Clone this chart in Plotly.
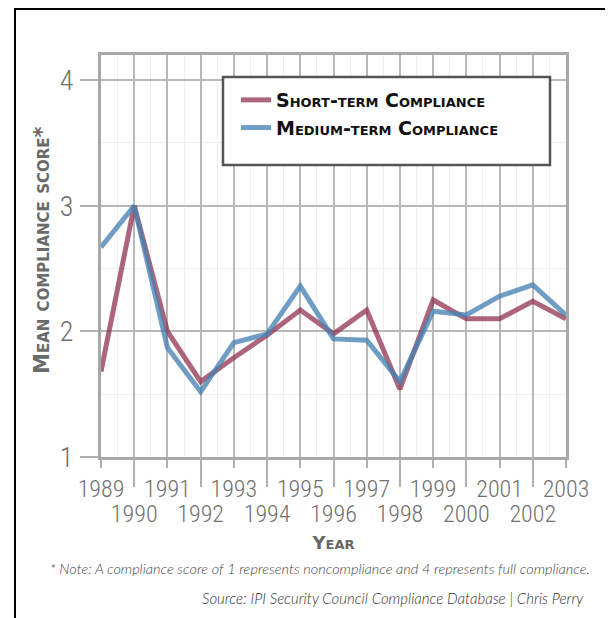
import plotly.graph_objects as go

years = list(range(1989, 2004))
short_term = [1.68, 3.0, 2.0, 1.6, 1.79, 1.97, 2.17, 1.98, 2.17, 1.54, 2.25, 2.10, 2.10, 2.24, 2.10]
medium_term = [2.67, 3.0, 1.87, 1.52, 1.91, 1.98, 2.36, 1.94, 1.93, 1.60, 2.16, 2.13, 2.28, 2.37, 2.13]

odd_years = [y for y in years if y % 2 == 1]
even_years = [y for y in years if y % 2 == 0]
y_ticks = [1, 2, 3, 4]

# the page adds an 8px body margin, so work in screen pixels and shift
OFF = 8
W, H = 613, 618
L, T = 101 - OFF, 55 - OFF
R, B = W - (566 - OFF), H - (457 - OFF)
PW, PH = W - L - R, H - T - B


# screen pixel -> paper coordinates
def px(x):
    return (x - OFF - L) / PW


def py(y):
    return (H - B - (y - OFF)) / PH


cond = "Roboto Condensed, DejaVu Sans Condensed, Liberation Sans Narrow, sans-serif"
xtick_font = dict(family=cond, size=24, color="#707070", weight=300)
ytick_font = dict(family=cond, size=28, color="#707070", weight=300)
caps_font = dict(family="DejaVu Sans, sans-serif", weight="bold", variant="small-caps")

fig = go.Figure()
fig.add_trace(go.Scatter(x=years, y=short_term, mode="lines", name="Short-term Compliance",
                         line=dict(color="rgba(140,42,70,0.72)", width=5)))
fig.add_trace(go.Scatter(x=years, y=medium_term, mode="lines", name="Medium-term Compliance",
                         line=dict(color="rgba(70,130,180,0.78)", width=5)))
# dummy trace so the second x axis (even years) is drawn
fig.add_trace(go.Scatter(x=[years[0]], y=[None], xaxis="x2", showlegend=False, hoverinfo="skip"))

fig.update_layout(
    width=W, height=H,
    margin=dict(l=L, r=R, t=T, b=B),
    paper_bgcolor="white", plot_bgcolor="white",
    showlegend=True,
    legend=dict(x=px(236), y=py(81), xanchor="left", yanchor="top",
                bgcolor="rgba(0,0,0,0)", borderwidth=0, itemwidth=30, tracegroupgap=0,
                font=dict(size=19, color="#111", **caps_font)),
    xaxis=dict(range=[1989, 2003], tickmode="array", tickvals=years,
               ticktext=[str(y) if y % 2 else "" for y in years], tickangle=0,
               ticks="outside", ticklen=8, tickwidth=1.5, tickcolor="#b0b0b0",
               showgrid=True, gridcolor="#b8b8b8", gridwidth=1.5,
               minor=dict(tickvals=[y + 0.5 for y in years[:-1]], showgrid=True,
                          gridcolor="#eeeeee", gridwidth=1),
               showline=True, linecolor="#a8a8a8", linewidth=3, mirror=True,
               zeroline=False, tickfont=xtick_font, ticklabelstandoff=0),
    xaxis2=dict(range=[1989, 2003], overlaying="x", anchor="y", side="bottom",
                tickmode="array", tickvals=even_years, ticktext=[str(y) for y in even_years], tickangle=0,
                ticks="outside", ticklen=29, tickwidth=1.5, tickcolor="#b0b0b0",
                showgrid=False, showline=False, zeroline=False,
                tickfont=xtick_font, ticklabelstandoff=6,
                title=dict(text="Year", standoff=9, font=dict(size=18, color="#666", **caps_font))),
    yaxis=dict(range=[1, 4.2], tickmode="array", tickvals=y_ticks,
               ticks="outside", ticklen=18, tickwidth=1.5, tickcolor="#b0b0b0",
               showgrid=True, gridcolor="#b8b8b8", gridwidth=1.5,
               minor=dict(tickvals=[1.5, 2.5, 3.5], showgrid=True, gridcolor="#eeeeee", gridwidth=1),
               showline=True, linecolor="#a8a8a8", linewidth=3, mirror=True,
               zeroline=False, tickfont=ytick_font, ticklabelstandoff=1),
)

# y axis title placed by hand, it sits close to the tick labels
fig.add_annotation(x=px(42), y=py(250), xref="paper", yref="paper", textangle=-90,
                   xanchor="center", yanchor="middle", showarrow=False,
                   text="Mean compliance score*", font=dict(size=21, color="#6a6a6a", **caps_font))

# legend box
fig.add_shape(type="rect", xref="paper", yref="paper", x0=px(223), x1=px(550), y0=py(165), y1=py(77),
              line=dict(color="#555555", width=2.5), fillcolor="white", layer="above")

# outer frame
fig.add_shape(type="line", xref="paper", yref="paper", x0=px(15), x1=px(613), y0=py(9), y1=py(9),
              line=dict(color="black", width=2))
fig.add_shape(type="line", xref="paper", yref="paper", x0=px(15), x1=px(15), y0=py(8), y1=py(626),
              line=dict(color="black", width=2))
fig.add_shape(type="line", xref="paper", yref="paper", x0=px(612), x1=px(612), y0=py(8), y1=py(626),
              line=dict(color="#dddddd", width=1))

fig.add_annotation(x=px(592), y=py(568), xref="paper", yref="paper", xanchor="right", yanchor="middle",
                   text="* Note: A compliance score of 1 represents noncompliance and 4 represents full compliance.",
                   showarrow=False, font=dict(family="Lato, Open Sans, sans-serif", size=14.5,
                                              color="#444", style="italic", weight=300))
fig.add_annotation(x=px(586), y=py(598), xref="paper", yref="paper", xanchor="right", yanchor="middle",
                   text="Source: IPI Security Council Compliance Database | Chris Perry",
                   showarrow=False, font=dict(family="Lato, Open Sans, sans-serif", size=15,
                                              color="#333", style="italic", weight=300))

fig.write_html("out.html")
